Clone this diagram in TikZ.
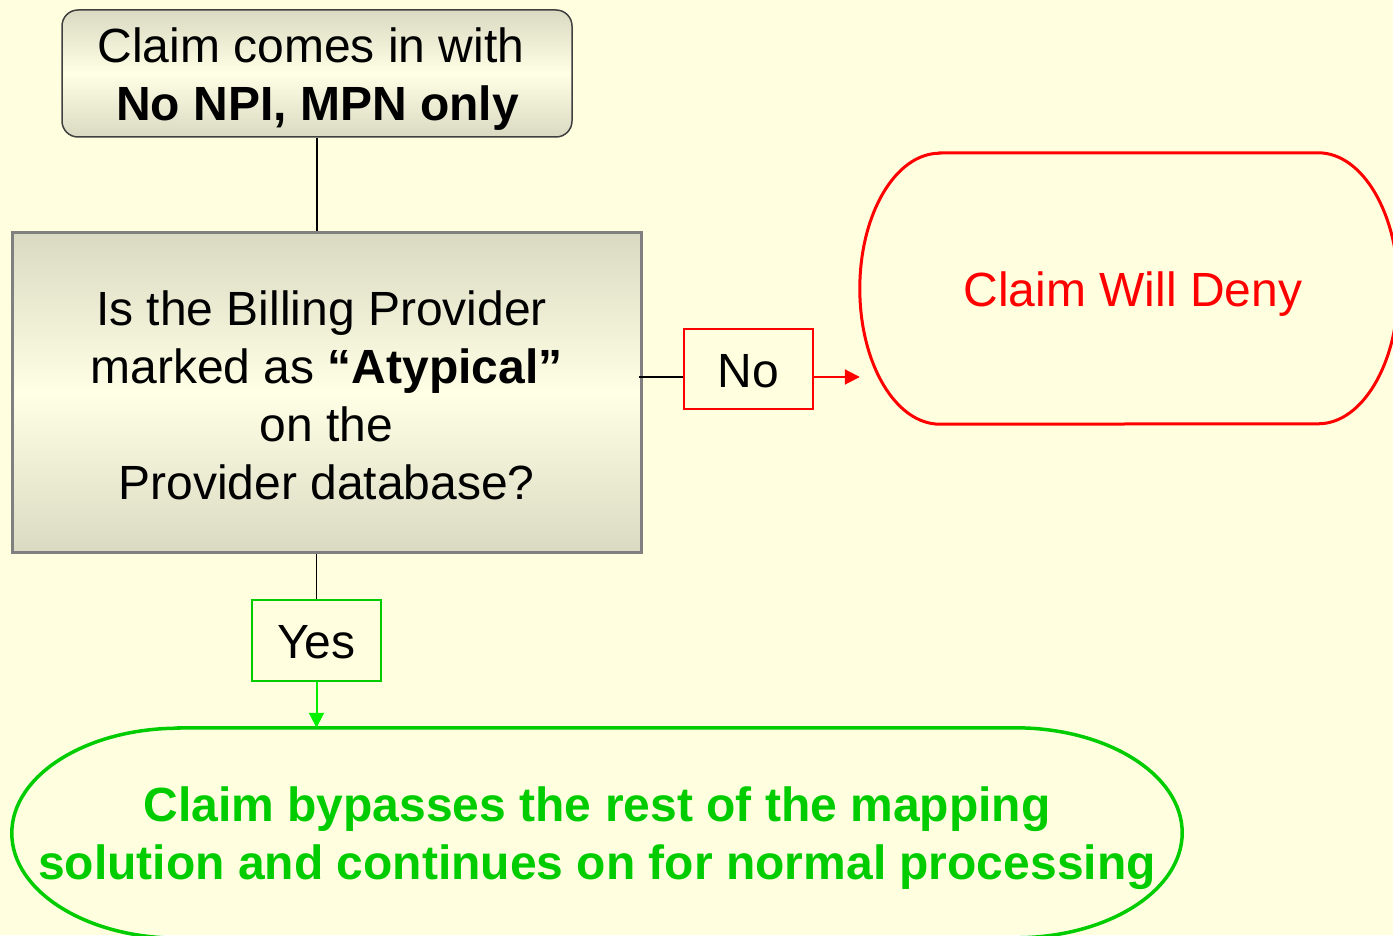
\documentclass[tikz,border=0pt]{standalone}
\usepackage{fontspec}
\setmainfont{Liberation Sans}
\usetikzlibrary{arrows.meta}
\definecolor{bgyellow}{RGB}{255,255,224}
\definecolor{shadedark}{RGB}{218,218,194}
\definecolor{shadelight}{RGB}{255,255,230}
\definecolor{boxgray}{RGB}{128,128,128}
\definecolor{darkborder}{RGB}{64,64,64}
\definecolor{denyred}{RGB}{255,0,0}
\definecolor{okgreen}{RGB}{0,204,0}
\definecolor{arrowgreen}{RGB}{0,240,0}
\newsavebox\shiftbox
\newcommand\shiftedtext[3]{\sbox\shiftbox{\begin{tabular}{@{}c@{}}#3\end{tabular}}\hspace*{#1}\raisebox{#2}[\ht\shiftbox][\dp\shiftbox]{\usebox\shiftbox}}
\tikzset{
  bigfont/.style={font=\fontsize{48pt}{58pt}\selectfont},
  startbox/.style={bigfont, rectangle, rounded corners=16pt, draw=darkborder, line width=1.5pt,
    top color=shadedark, bottom color=shadedark, middle color=shadelight,
    minimum width=510pt, minimum height=127pt, inner sep=0pt},
  decbox/.style={bigfont, rectangle, draw=boxgray, line width=3pt,
    top color=shadedark, bottom color=shadedark, middle color=shadelight,
    minimum width=629pt, minimum height=320pt, inner sep=0pt},
  nolabel/.style={bigfont, rectangle, draw=denyred, fill=bgyellow, line width=2pt,
    minimum width=129pt, minimum height=80pt, inner sep=0pt},
  yeslabel/.style={bigfont, rectangle, draw=okgreen, fill=bgyellow, line width=2.5pt,
    minimum width=129pt, minimum height=81pt, inner sep=0pt},
  termtext/.style={bigfont, inner sep=0pt},
  connector/.style={draw=black, line width=1.5pt},
  redarrow/.style={draw=denyred, line width=2pt, -{Triangle[length=15pt,width=15pt]}},
  greenarrow/.style={draw=arrowgreen, line width=2pt, -{Triangle[length=15pt,width=15pt]}}
}
\begin{document}
\begin{tikzpicture}[x=1pt,y=1pt]
\fill[bgyellow] (0,0) rectangle (1393,935);
\useasboundingbox (0,0) rectangle (1393,935);

% start box
\node[startbox] (start) at (317,861.5) {\shiftedtext{-12pt}{-6pt}{Claim comes in with\\\hspace*{13pt}\textbf{No NPI, MPN only}}};

% decision box
\node[decbox] (dec) at (326.5,542) {\shiftedtext{0pt}{-8pt}{Is the Billing Provider\hspace*{10pt}\\marked as \textbf{“Atypical”}\\on the\\Provider database?}};

% No label
\node[nolabel] (no) at (748.5,566) {\shiftedtext{0pt}{-7pt}{No}};

% Yes label
\node[yeslabel] (yes) at (316.5,294.5) {\shiftedtext{0pt}{-6pt}{Yes}};

% deny terminator
\node[termtext, text=denyred, minimum width=538pt, minimum height=271pt] (deny) at (1129,646.5) {\shiftedtext{8pt}{-6pt}{Claim Will Deny}};
\draw[denyred, line width=3pt]
  ([xshift=80pt]deny.north west) -- ([xshift=-80pt]deny.north east)
  arc[start angle=90, end angle=-90, x radius=80pt, y radius=135.5pt]
  -- ([xshift=80pt]deny.south west)
  arc[start angle=270, end angle=90, x radius=80pt, y radius=135.5pt] -- cycle;

% bypass terminator
\node[termtext, text=okgreen, minimum width=1170pt, minimum height=210pt] (bypass) at (597,102) {\shiftedtext{0pt}{-6pt}{\textbf{Claim bypasses the rest of the mapping}\\\textbf{solution and continues on for normal processing}}};
\draw[okgreen, line width=3.5pt]
  ([xshift=167pt]bypass.north west) -- ([xshift=-167pt]bypass.north east)
  arc[start angle=90, end angle=-90, x radius=167pt, y radius=105pt]
  -- ([xshift=167pt]bypass.south west)
  arc[start angle=270, end angle=90, x radius=167pt, y radius=105pt] -- cycle;

% connectors
\draw[connector] (start.south) -- (start.south |- dec.north);
\draw[connector] ([xshift=-4pt,yshift=-8pt]no.west -| dec.east) -- ([yshift=-8pt]no.west);
\draw[redarrow] ([yshift=-8pt]no.east) -- ([yshift=-8pt]no.east -| deny.west);
\draw[connector] (yes.north |- dec.south) -- (yes.north);
\draw[greenarrow] (yes.south) -- (yes.south |- bypass.north);
\end{tikzpicture}
\end{document}
